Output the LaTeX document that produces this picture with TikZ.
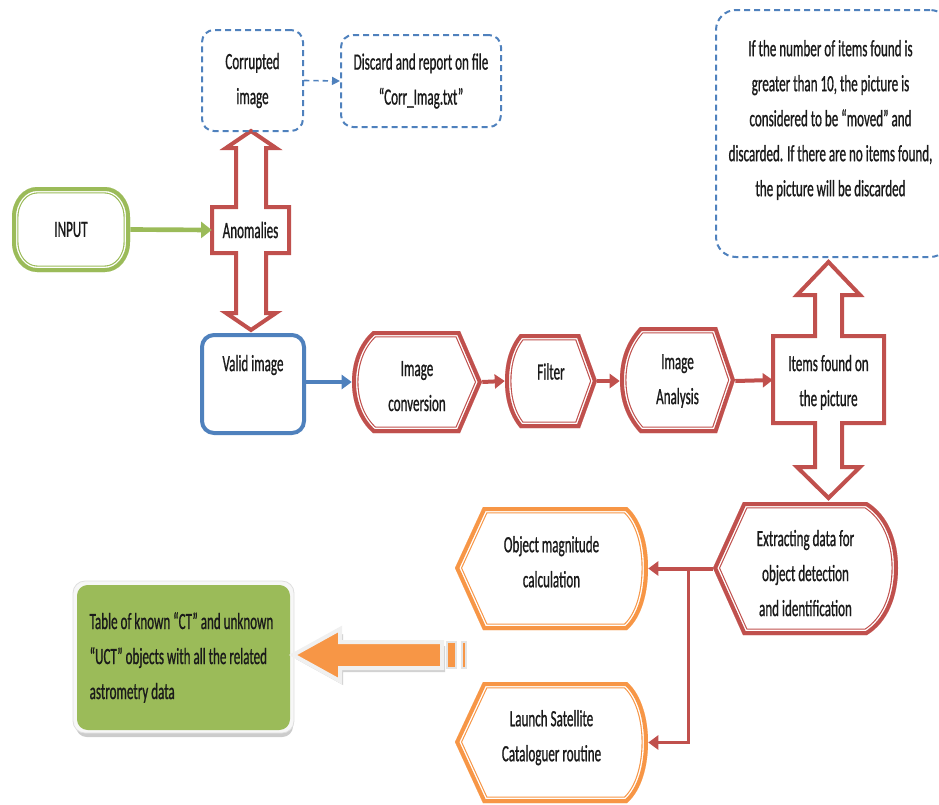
\documentclass[tikz,border=0pt]{standalone}
\usepackage{fontspec}
\setmainfont{Carlito}[FakeStretch=0.56,FakeBold=0.8]
\usetikzlibrary{arrows.meta,calc}
\definecolor{cred}{HTML}{C0504D}
\definecolor{cblue}{HTML}{4F81BD}
\definecolor{cgreen}{HTML}{9BBB59}
\definecolor{corange}{HTML}{F79646}
\definecolor{ctext}{HTML}{1A1A1A}
\tikzset{
  lbl/.style={font=\fontsize{17.5}{26.25}\selectfont, text=ctext, align=center, inner sep=0pt},
  sz/.style 2 args={minimum width=#1*0.75pt, minimum height=#2*0.75pt},
  conn/.style={line width=3pt, -{Triangle[length=7.5pt,width=10.5pt]}},
  dashbox/.style={draw=cblue, line width=1.5pt, dash pattern=on 4.5pt off 3pt, rounded corners=9pt},
  crossarrow/.style={draw=cred, fill=white, line width=3pt, line join=miter},
}
% compound (thick outer, thin inner) outline drawn inside the path
\newcommand\cmpd[2]{%
  \fill[white] #2;
  \begin{scope}
    \clip #2;
    \draw[#1, line width=9.7pt] #2;
    \draw[white, line width=8.0pt] #2;
    \draw[#1, line width=6pt] #2;
  \end{scope}}
% text block shifted vertically inside its node
\newcommand\shifted[2]{\raisebox{#1}[0pt][0pt]{\begin{tabular}{@{}c@{}}#2\end{tabular}}}
\begin{document}
\begin{tikzpicture}[x=0.75pt,y=-0.75pt]
\useasboundingbox (0,0) rectangle (939,804);

% ---------- shapes ----------
\cmpd{cgreen}{(37,187) -- (105,187) arc[start angle=-90,end angle=0,x radius=25,y radius=30] -- (130,242) arc[start angle=0,end angle=90,x radius=25,y radius=30] -- (37,272) arc[start angle=90,end angle=180,x radius=25,y radius=30] -- (12,217) arc[start angle=180,end angle=270,x radius=25,y radius=30] -- cycle}
\path[crossarrow] (251,131) -- (276,148) -- (266,148) -- (266,207) -- (289,207) -- (289,253) -- (266,253) -- (266,313) -- (276,313) -- (251,330) -- (226,313) -- (236,313) -- (236,253) -- (212,253) -- (212,207) -- (236,207) -- (236,148) -- (226,148) -- cycle;
\cmpd{cred}{(373,331) -- (460,331) -- (482,382) -- (460,433) -- (373,433) .. controls (358,420) and (352,400) .. (352,382) .. controls (352,364) and (358,344) .. (373,331) -- cycle}
\cmpd{cred}{(520,334) -- (580,334) -- (597,381) -- (580,428) -- (520,428) .. controls (509,415) and (505,398) .. (505,381) .. controls (505,364) and (509,347) .. (520,334) -- cycle}
\cmpd{cred}{(640,327) -- (717,327) -- (735,380) -- (717,433) -- (640,433) .. controls (626,418) and (620,400) .. (620,380) .. controls (620,360) and (626,342) .. (640,327) -- cycle}
\path[crossarrow] (828.5,262) -- (860,295) -- (842,295) -- (842,336) -- (884,336) -- (884,423) -- (842,423) -- (842,467) -- (860,467) -- (828.5,498) -- (797,467) -- (815,467) -- (815,423) -- (773,423) -- (773,336) -- (815,336) -- (815,295) -- (797,295) -- cycle;
\cmpd{cred}{(743,502) -- (867,502) .. controls (888,515) and (898,540) .. (898,568) .. controls (898,596) and (888,622) .. (867,635) -- (743,635) -- (713,568) -- cycle}
\cmpd{corange}{(483,507) -- (627,507) .. controls (642,520) and (648,545) .. (648,568) .. controls (648,592) and (642,617) .. (627,630) -- (483,630) -- (455,568) -- cycle}
\cmpd{corange}{(483,682) -- (627,682) .. controls (642,695) and (648,720) .. (648,742) .. controls (648,765) and (642,790) .. (627,803) -- (483,803) -- (455,742) -- cycle}

% table box with rim and shadow
\fill[gray!40, rounded corners=8pt] (76,590) rectangle (293,737);
\fill[gray!6, draw=gray!25, line width=0.6pt, rounded corners=9pt] (73,581) rectangle (294,733);
\fill[cgreen, rounded corners=8pt] (77,585) rectangle (290,730);

% big orange arrow
\fill[gray!35] (296,659) -- (343,634) -- (343,646) -- (445,646) -- (445,672) -- (343,672) -- (343,685) -- cycle;
\filldraw[fill=corange, draw=gray!12, line width=3pt, line join=miter] (293,655) -- (340,629) -- (340,642) -- (442,642) -- (442,668) -- (340,668) -- (340,681) -- cycle;
\filldraw[fill=corange, draw=gray!20, line width=1.5pt] (447,642) rectangle (456,668);
\filldraw[fill=corange, draw=gray!20, line width=1.5pt] (462,642) rectangle (466,668);

% ---------- nodes ----------
\node[lbl, sz={118}{85}] (input) at (71,229.5) {INPUT};
\node[lbl, sz={77}{46}] (anom) at (250.5,230) {Anomalies};
\node[lbl, sz={101}{101}, dashbox] (corr) at (252.5,80.5) {Corrupted\\image};
\node[lbl, sz={160}{92}, dashbox] (disc) at (421,81) {Discard and report on file\\“Corr\_Imag.txt”};
\node[sz={102}{98}, draw=cblue, line width=3pt, rounded corners=9pt] (valid) at (253,384) {};
\node[lbl] (validtxt) at ($(valid.north)+(0,32)$) {Valid image};
\node[lbl, sz={130}{102}] (conv) at (417,382) {\shifted{-7.7pt}{Image\\conversion}};
\node[lbl, sz={92}{94}] (filt) at (551,381) {\raisebox{1.1pt}[0pt][0pt]{Filter}};
\node[lbl, sz={115}{106}] (ana) at (677.5,381) {Image\\Analysis};
\node[lbl, sz={111}{87}] (items) at (828.5,380) {\shifted{-5.5pt}{Items found on\\the picture}};
\node[sz={234}{247}, dashbox, rounded corners=15pt] (note) at (833,133.5) {};
\node[lbl] (notetxt) at (830.5,120) {If the number of items found is\\greater than 10, the picture is\\considered to be “moved” and\\discarded. If there are no items found,\\the picture will be discarded};
\node[lbl, sz={185}{133}] (extr) at (805.5,568.5) {\shifted{-8.5pt}{Extracting data for\\object detection\\and identification}};
\node[lbl, sz={193}{123}] (om) at (551.5,568.5) {\shifted{0pt}{Object magnitude\\calculation}};
\node[lbl, sz={193}{121}] (launch) at (551.5,742.5) {\shifted{0pt}{Launch Satellite\\Cataloguer routine}};
\node[lbl, sz={213}{145}, align=left] (table) at (181.5,657.5) {Table of known  “CT” and unknown\\“UCT” objects with all the  related\\astrometry data};

% ---------- connectors ----------
\draw[conn, cgreen, line width=3.5pt, -{Triangle[length=8pt,width=12pt]}] (input.east) -- (anom.west);
\draw[cblue, line width=1.2pt, dash pattern=on 4pt off 3pt, -{Triangle[length=6pt,width=6pt]}] (corr.east) -- (disc.west);
\draw[conn, cblue] (valid.east |- conv.west) -- (conv.west);
\draw[conn, cred] (conv.east) -- (filt.west);
\draw[conn, cred] (filt.east) -- (ana.west);
\draw[conn, cred] (ana.east) -- (items.west);
\draw[conn, cred] (extr.west) -- (om.east);
\coordinate (br) at (688,568.5);
\draw[conn, cred, line width=2.25pt] (br) |- (launch.east);
\end{tikzpicture}
\end{document}
